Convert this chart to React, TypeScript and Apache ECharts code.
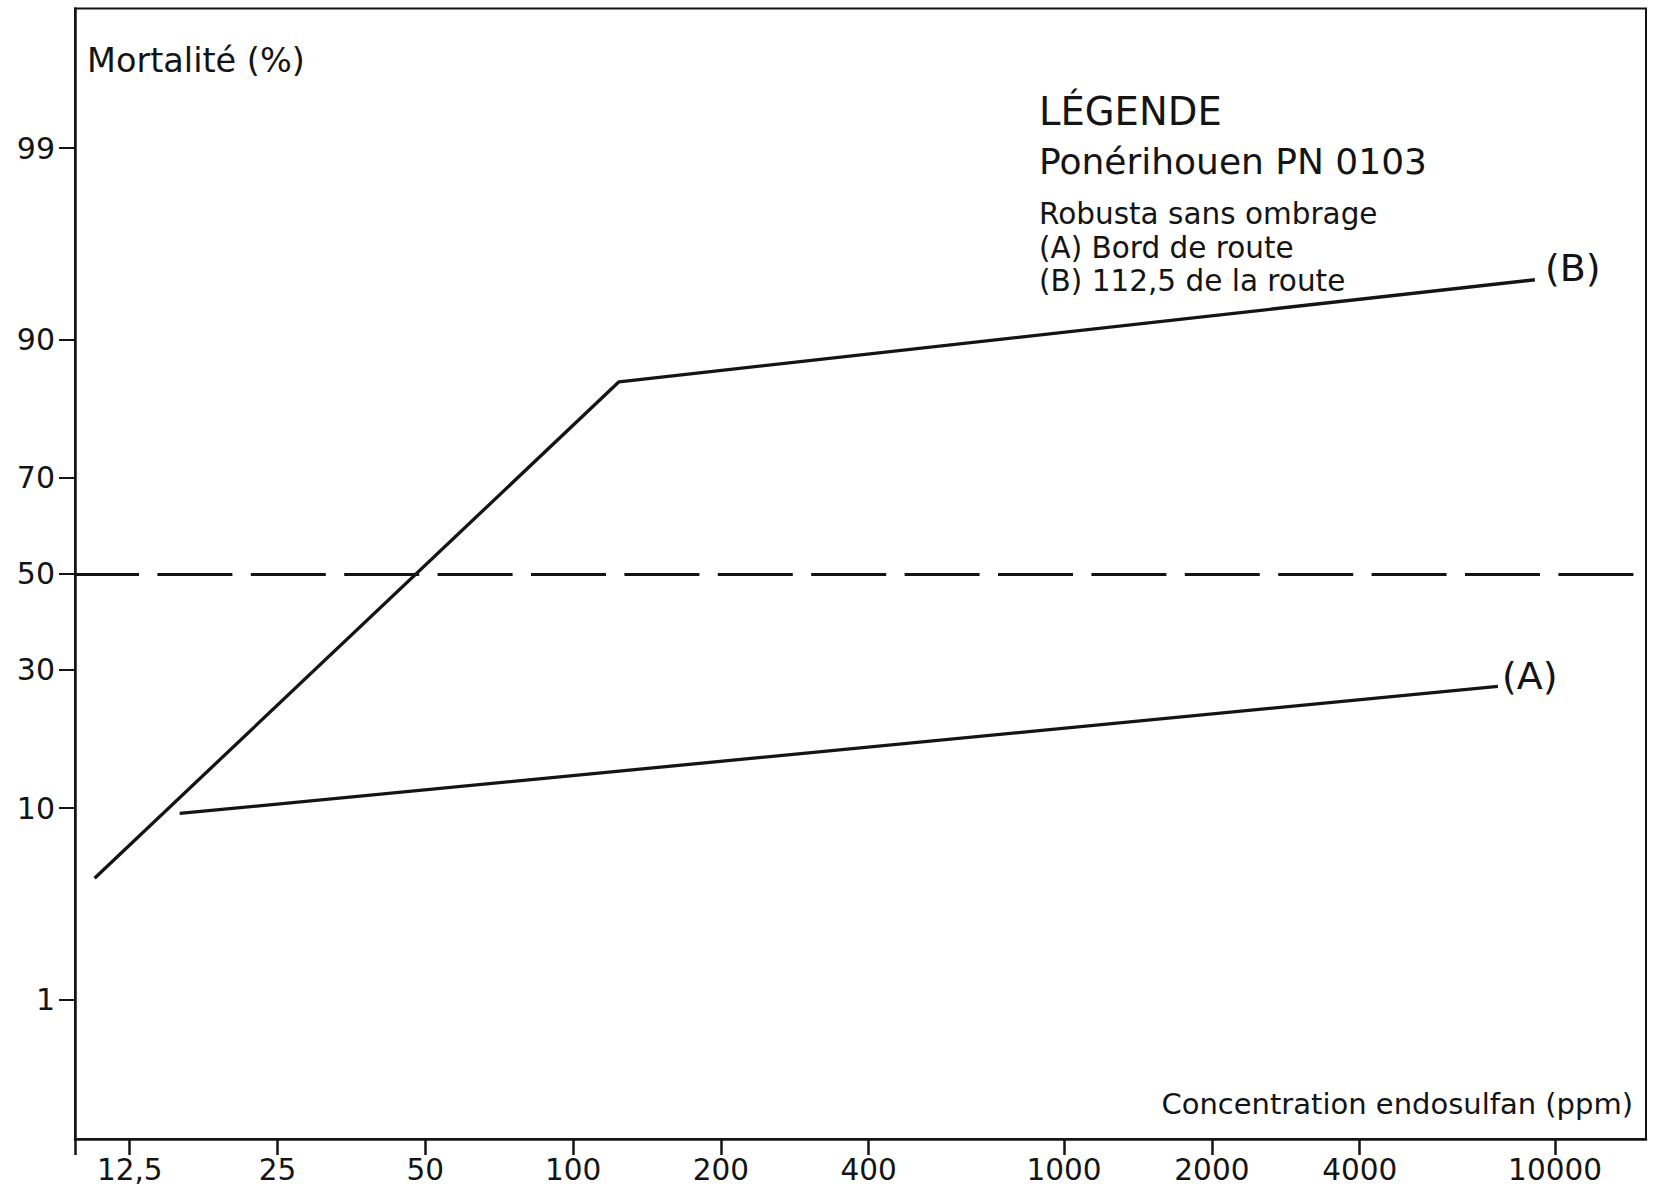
import React, { useEffect, useRef } from "react";
import * as echarts from "echarts";

// Concentration of endosulfan (ppm) against mortality (%), probit / log scales
const concB = [10.6, 124, 9100];
const mortB = [4.8, 85.3, 94.6];
const concA = [15.8, 7650];
const mortA = [9.5, 26.9];

const xTickValues = [12.5, 25, 50, 100, 200, 400, 1000, 2000, 4000, 10000];
const xTickLabels = ["12,5", "25", "50", "100", "200", "400", "1000", "2000", "4000", "10000"];
const yTickValues = [1, 10, 30, 50, 70, 90, 99];
const yTickLabels = ["1", "10", "30", "50", "70", "90", "99"];
const referenceLevel = 50;

const xRange = [9.67, 15320];
const yRange = [0.1, 99.9];

const yTitle = "Mortalité (%)";
const xTitle = "Concentration endosulfan (ppm)";
const legendHead = ["LÉGENDE", "Ponérihouen PN 0103"];
const legendBody = ["Robusta sans ombrage", "(A) Bord de route", "(B) 112,5 de la route"];

const FONT = "DejaVu Sans";
const INK = "#141414";

// Inverse of the standard normal CDF (probit), input in percent
function probit(percent: number): number {
  const p = percent / 100;
  const a = [-3.969683028665376e1, 2.209460984245205e2, -2.759285104469687e2, 1.38357751867269e2, -3.066479806614716e1, 2.506628277459239];
  const b = [-5.447609879822406e1, 1.615858368580409e2, -1.556989798598866e2, 6.680131188771972e1, -1.328068155288572e1];
  const c = [-7.784894002430293e-3, -3.223964580411365e-1, -2.400758277161838, -2.549732539343734, 4.374664141464968, 2.938163982698783];
  const d = [7.784695709041462e-3, 3.224671290700398e-1, 2.445134137142996, 3.754408661907416];
  const pLow = 0.02425;
  if (p < pLow) {
    const q = Math.sqrt(-2 * Math.log(p));
    return (((((c[0] * q + c[1]) * q + c[2]) * q + c[3]) * q + c[4]) * q + c[5]) /
      ((((d[0] * q + d[1]) * q + d[2]) * q + d[3]) * q + 1);
  }
  if (p <= 1 - pLow) {
    const q = p - 0.5;
    const r = q * q;
    return (((((a[0] * r + a[1]) * r + a[2]) * r + a[3]) * r + a[4]) * r + a[5]) * q /
      (((((b[0] * r + b[1]) * r + b[2]) * r + b[3]) * r + b[4]) * r + 1);
  }
  const q = Math.sqrt(-2 * Math.log(1 - p));
  return -(((((c[0] * q + c[1]) * q + c[2]) * q + c[3]) * q + c[4]) * q + c[5]) /
    ((((d[0] * q + d[1]) * q + d[2]) * q + d[3]) * q + 1);
}

const lx = (v: number) => Math.log10(v);

function pickLabel(values: number[], labels: string[], v: number): string {
  for (let i = 0; i < values.length; i++) {
    if (Math.abs(values[i] - v) < 1e-6) return labels[i];
  }
  return "";
}

export default function App() {
  const ref = useRef<HTMLDivElement>(null);

  useEffect(() => {
    if (!ref.current) return;
    const chart = echarts.init(ref.current, undefined, { renderer: "svg" });

    const xTicks = xTickValues.map(lx);
    const yTicks = yTickValues.map(probit);
    const xMin = lx(xRange[0]);
    const xMax = lx(xRange[1]);

    const option: any = {
      animation: false,
      backgroundColor: "#ffffff",
      grid: {
        left: 75,
        top: 8.5,
        width: 1571,
        height: 1130.5,
        show: true,
        borderColor: INK,
        borderWidth: 2,
        containLabel: false,
        outerBoundsMode: "none",
      },
      xAxis: {
        type: "value",
        min: xMin,
        max: xMax,
        splitLine: { show: false },
        axisLine: { show: true, onZero: false, lineStyle: { color: INK, width: 2.5 } },
        axisTick: {
          show: true,
          customValues: [xMin, ...xTicks],
          length: 16,
          lineStyle: { color: INK, width: 2.5 },
        },
        axisLabel: {
          customValues: xTicks,
          margin: 16,
          fontFamily: FONT,
          fontSize: 29.5,
          color: INK,
          formatter: (v: number) => pickLabel(xTicks, xTickLabels, v),
        },
      },
      yAxis: {
        type: "value",
        min: probit(yRange[0]),
        max: probit(yRange[1]),
        splitLine: { show: false },
        axisLine: { show: true, onZero: false, lineStyle: { color: INK, width: 2.5 } },
        axisTick: {
          show: true,
          customValues: yTicks,
          length: 16,
          lineStyle: { color: INK, width: 2 },
        },
        axisLabel: {
          customValues: yTicks,
          margin: 20,
          fontFamily: FONT,
          fontSize: 30,
          color: INK,
          formatter: (v: number) => pickLabel(yTicks, yTickLabels, v),
        },
      },
      series: [
        {
          name: "B",
          type: "line",
          silent: true,
          symbol: "none",
          data: concB.map((c, i) => [lx(c), probit(mortB[i])]),
          lineStyle: { color: INK, width: 3.3 },
          endLabel: {
            show: true,
            formatter: "(B)",
            distance: 10,
            offset: [0, -12],
            fontFamily: FONT,
            fontSize: 38,
            color: INK,
          },
          markLine: {
            silent: true,
            symbol: "none",
            label: { show: false },
            lineStyle: { color: INK, width: 3, type: [75, 18.4], dashOffset: 11 },
            data: [{ yAxis: probit(referenceLevel) }],
          },
        },
        {
          name: "A",
          type: "line",
          silent: true,
          symbol: "none",
          data: concA.map((c, i) => [lx(c), probit(mortA[i])]),
          lineStyle: { color: INK, width: 3.3 },
          endLabel: {
            show: true,
            formatter: "(A)",
            distance: 4,
            offset: [0, -10],
            fontFamily: FONT,
            fontSize: 38,
            color: INK,
          },
        },
      ],
      graphic: [
        {
          type: "text",
          left: 87,
          top: 43,
          style: { text: yTitle, fontFamily: FONT, fontSize: 33.5, fill: INK },
        },
        {
          type: "text",
          right: 28,
          top: 1089,
          style: { text: xTitle, fontFamily: FONT, fontSize: 29, fill: INK },
        },
        {
          type: "text",
          x: 1039,
          y: 111,
          style: { text: legendHead[0], fontFamily: FONT, fontSize: 38.5, fill: INK, verticalAlign: "middle" },
        },
        {
          type: "text",
          x: 1039,
          y: 161,
          style: { text: legendHead[1], fontFamily: FONT, fontSize: 36, fill: INK, verticalAlign: "middle" },
        },
        ...legendBody.map((t, i) => ({
          type: "text",
          x: 1039,
          y: 214 + i * 33.5,
          style: { text: t, fontFamily: FONT, fontSize: 29.5, fill: INK, verticalAlign: "middle" },
        })),
      ],
    };

    chart.setOption(option);
    return () => chart.dispose();
  }, []);

  return (
    <div
      ref={ref}
      style={{ position: "fixed", left: 0, top: 0, width: 1661, height: 1201, background: "#fff" }}
    />
  );
}
